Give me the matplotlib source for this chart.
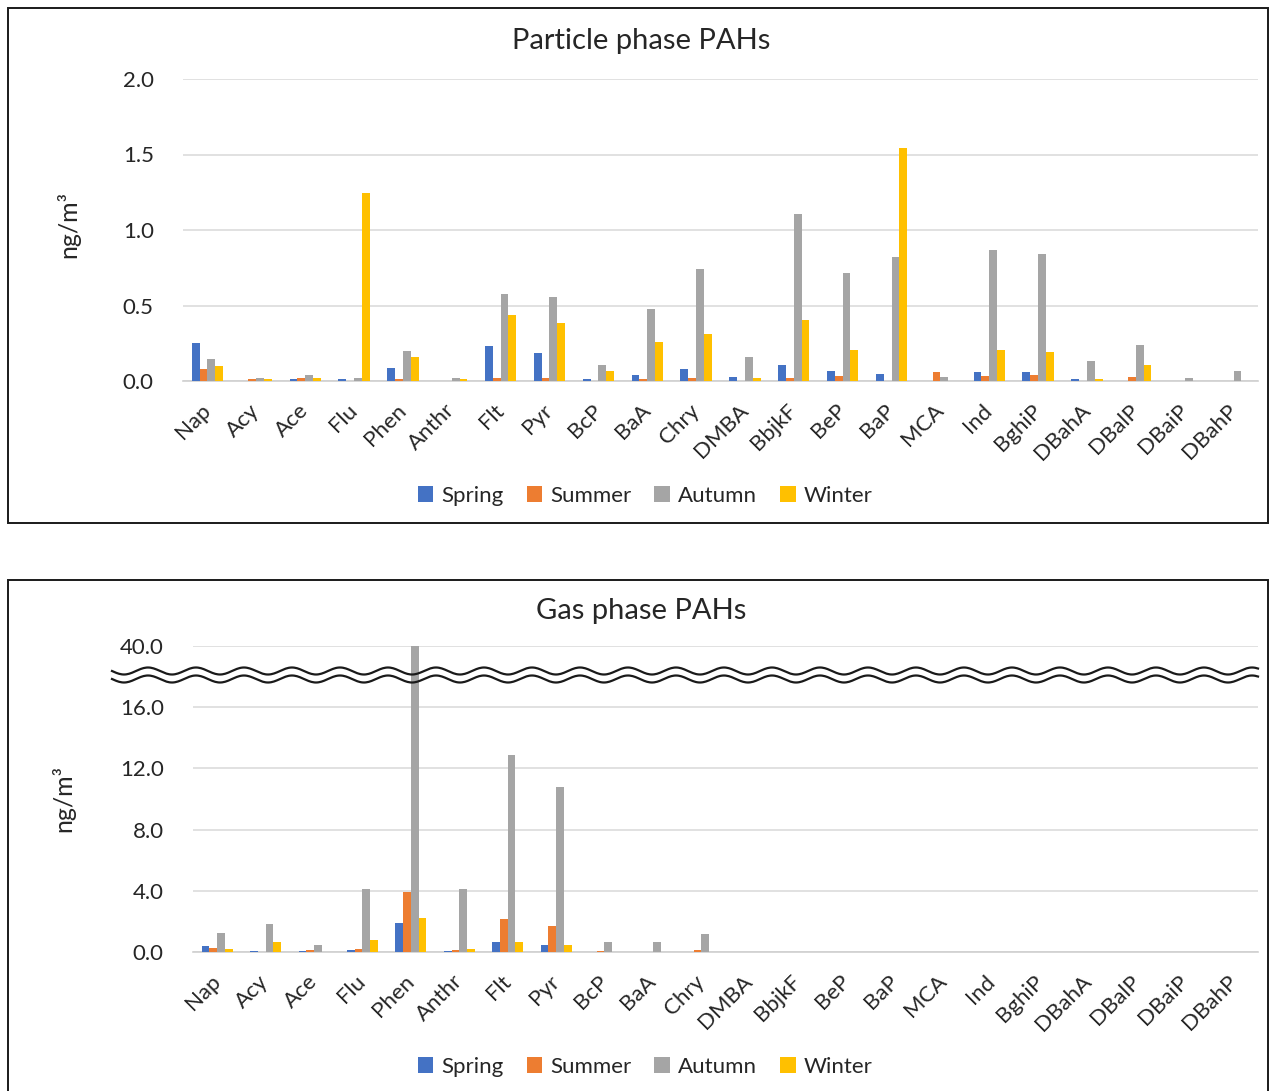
import numpy as np
import matplotlib
matplotlib.use("Agg")
import matplotlib.pyplot as plt
from matplotlib.lines import Line2D
from matplotlib.patches import Rectangle

plt.rcParams['font.family'] = ['Lato', 'DejaVu Sans']

compounds = ["Nap", "Acy", "Ace", "Flu", "Phen", "Anthr", "Flt", "Pyr", "BcP", "BaA",
             "Chry", "DMBA", "BbjkF", "BeP", "BaP", "MCA", "Ind", "BghiP", "DBahA",
             "DBalP", "DBaiP", "DBahP"]
seasons = ["Spring", "Summer", "Autumn", "Winter"]
colors = ["#4472C4", "#ED7D31", "#A5A5A5", "#FFC000"]

# Particle phase (ng/m3)
part_spring = [0.249, 0.0, 0.011, 0.011, 0.086, 0.0, 0.231, 0.183, 0.011, 0.040, 0.081,
               0.029, 0.106, 0.064, 0.048, 0.0, 0.057, 0.057, 0.011, 0.0, 0.0, 0.0]
part_summer = [0.077, 0.011, 0.020, 0.0, 0.011, 0.0, 0.018, 0.018, 0.0, 0.011, 0.020,
               0.0, 0.018, 0.035, 0.0, 0.062, 0.035, 0.040, 0.0, 0.029, 0.0, 0.0]
part_autumn = [0.143, 0.018, 0.040, 0.018, 0.200, 0.018, 0.573, 0.553, 0.106, 0.480, 0.742,
               0.161, 1.104, 0.716, 0.819, 0.029, 0.868, 0.839, 0.134, 0.240, 0.018, 0.068]
part_winter = [0.099, 0.011, 0.018, 1.244, 0.161, 0.011, 0.438, 0.381, 0.066, 0.260, 0.310,
               0.022, 0.407, 0.207, 1.544, 0.0, 0.207, 0.192, 0.011, 0.106, 0.0, 0.0]

# Gas phase (ng/m3)
gas_spring = [0.37, 0.09, 0.09, 0.15, 1.91, 0.09, 0.68, 0.48, 0.0, 0.0, 0.0,
              0, 0, 0, 0, 0, 0, 0, 0, 0, 0, 0]
gas_summer = [0.26, 0.0, 0.15, 0.20, 3.90, 0.15, 2.15, 1.73, 0.09, 0.0, 0.15,
              0, 0, 0, 0, 0, 0, 0, 0, 0, 0, 0]
gas_autumn = [1.25, 1.82, 0.46, 4.10, 40.0, 4.10, 12.88, 10.78, 0.66, 0.66, 1.16,
              0, 0, 0, 0, 0, 0, 0, 0, 0, 0, 0]
gas_winter = [0.18, 0.66, 0.0, 0.77, 2.19, 0.22, 0.66, 0.48, 0.0, 0.0, 0.0,
              0, 0, 0, 0, 0, 0, 0, 0, 0, 0, 0]

part_ticks = [0.0, 0.5, 1.0, 1.5, 2.0]
part_tick_labels = ["0.0", "0.5", "1.0", "1.5", "2.0"]
gas_ticks = [0, 4, 8, 12, 16, 20]
gas_tick_labels = ["0.0", "4.0", "8.0", "12.0", "16.0", "40.0"]

W, H = 1270, 1091
fig = plt.figure(figsize=(W / 100, H / 100), dpi=100)

def fx(px):
    return px / W

def fy(py):
    return 1 - py / H

# frames
fig.add_artist(Rectangle((fx(8), fy(523)), fx(1268) - fx(8), fy(8) - fy(523),
                         transform=fig.transFigure, fill=False, ec="#1a1a1a", lw=1.4))
fig.add_artist(Rectangle((fx(8), fy(1100)), fx(1268) - fx(8), fy(580) - fy(1100),
                         transform=fig.transFigure, fill=False, ec="#1a1a1a", lw=1.4,
                         clip_on=False))

txt = "#262626"

def draw(ax, series, ticks, tick_labels, ymax, title, title_y, ylab_x, ylab_y, leg_y):
    x = np.arange(len(compounds))
    bw = 0.16
    for i, (vals, c, lab) in enumerate(zip(series, colors, seasons)):
        ax.bar(x + (i - 1.5) * bw, vals, width=bw, color=c, label=lab, zorder=3)
    ax.set_xlim(-0.5, len(compounds) - 0.5)
    ax.set_ylim(0, ymax)
    ax.set_yticks(ticks)
    ax.set_yticklabels(tick_labels)
    ax.set_xticks(x)
    ax.set_xticklabels(compounds, rotation=45, ha="right", va="center",
                       rotation_mode="anchor")
    ax.tick_params(axis="y", length=0, pad=21, labelsize=16, labelcolor=txt)
    ax.tick_params(axis="x", length=0, pad=19, labelsize=16, labelcolor=txt)
    ax.grid(axis="y", color="#D9D9D9", lw=1.1, zorder=0)
    for s in ["top", "right", "left"]:
        ax.spines[s].set_visible(False)
    ax.spines["bottom"].set_color("#D0D0D0")
    ax.spines["bottom"].set_linewidth(1.2)
    fig.text(fx(641), fy(title_y), title, ha="center", va="center", fontsize=21,
             color=txt)
    fig.text(fx(ylab_x), fy(ylab_y), "ng/m³", rotation=90, ha="center", va="center",
             fontsize=18, color=txt)
    fig.legend(*ax.get_legend_handles_labels(), loc="center",
               bbox_to_anchor=(fx(645), fy(leg_y)), ncol=4, frameon=False,
               fontsize=16, handlelength=0.7, handleheight=0.7, handletextpad=0.35,
               columnspacing=1.05, labelcolor=txt)

ax1 = fig.add_axes([fx(183), fy(381), fx(1258) - fx(183), fy(79) - fy(381)])
draw(ax1, [part_spring, part_summer, part_autumn, part_winter], part_ticks,
     part_tick_labels, 2.0, "Particle phase PAHs", 41, 68, 224, 496)

ax2 = fig.add_axes([fx(193), fy(952), fx(1258) - fx(193), fy(646) - fy(952)])
draw(ax2, [gas_spring, gas_summer, gas_autumn, gas_winter], gas_ticks,
     gas_tick_labels, 20, "Gas phase PAHs", 611, 63, 798, 1067)

# axis-break wavy lines
xs = np.linspace(112, 1258, 800)
wave = 3.5 * np.sin(2 * np.pi * (xs - 112) / 48.0)
for yc in (671, 679):
    fig.add_artist(Line2D(fx(xs), fy(yc + wave), transform=fig.transFigure,
                          color="#1a1a1a", lw=1.6, zorder=10))

fig.savefig("out.png", dpi=100)
